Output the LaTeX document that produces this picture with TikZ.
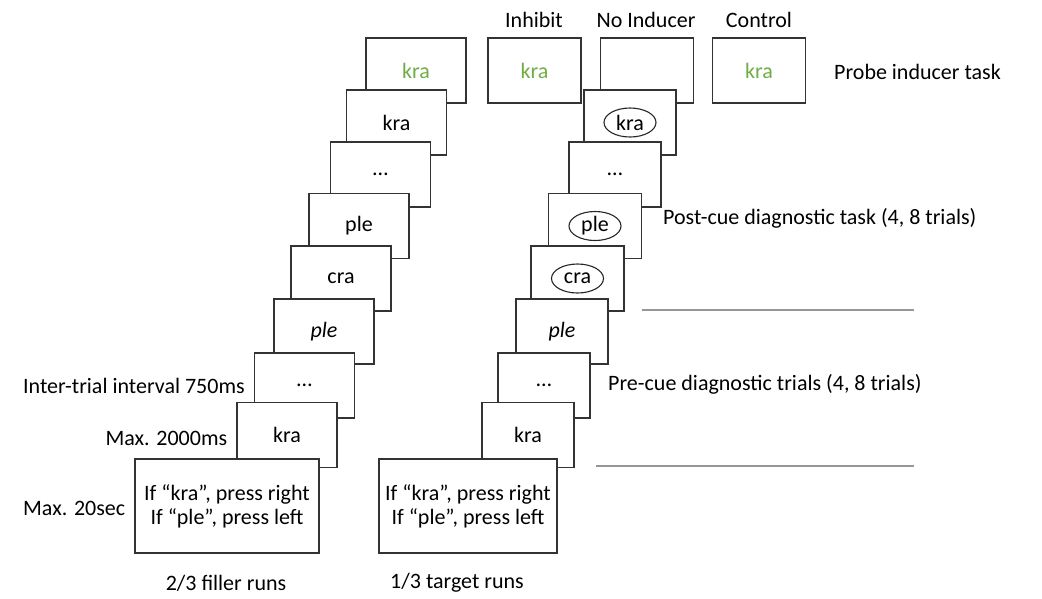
\documentclass[tikz,border=0pt]{standalone}
\usepackage{fontspec}
\setmainfont{Carlito}
\usetikzlibrary{shapes.geometric}

\definecolor{kragreen}{RGB}{112,173,71}
\definecolor{rulegray}{RGB}{150,150,150}
\tikzset{
  screen/.style={draw=black!80, fill=white, line width=1.2pt, minimum width=100pt, minimum height=65pt, inner sep=0pt},
  narrow/.style={screen, minimum width=93pt},
  instr/.style={screen, minimum height=94pt, align=center},
  oval/.style={ellipse, draw=black!85, line width=1.1pt, minimum width=52pt, minimum height=29pt, inner sep=0pt},
  lbl/.style={inner sep=0pt},
}

\begin{document}
\begin{tikzpicture}[x=1pt, y=-1pt, font=\fontsize{22}{24}\selectfont]
            \useasboundingbox (0,0) rectangle (1042,598);

            \node[screen] (l1) at (416,70.5) {\textcolor{kragreen}{kra}};
            \node[screen] (l2) at (396.5,122.5) {kra};
            \node[screen] (l3) at (380.5,174.5) {…};
            \node[screen] (l4) at (359,226) {ple};
            \node[screen] (l5) at (341,278.5) {cra};
            \node[screen] (l6) at (324,331.5) {\textit{ple}};
            \node[screen] (l7) at (304.5,385.5) {…};
            \node[screen] (l8) at (287,435) {kra};
            \node[instr, minimum width=184pt] (l9) at (227,506) {If “kra”, press right\\If “ple”, press left};

            \node[narrow] (inhibit) at (534.5,70.5) {\textcolor{kragreen}{kra}};
            \node[narrow] (noinducer) at (647,70.5) {};
            \node[narrow] (control) at (759,70.5) {\textcolor{kragreen}{kra}};
            \node[narrow, minimum width=92pt] (r2) at (630,122.5) {};
            \node[oval] (r2w) at (r2) {kra};
            \node[narrow, minimum width=92pt] (r3) at (615,174.5) {…};
            \node[narrow] (r4) at (595,226) {};
            \node[oval] (r4w) at (r4) {ple};
            \node[narrow] (r5) at (577.5,278.5) {};
            \node[oval] (r5w) at (r5) {cra};
            \node[narrow, minimum width=92pt] (r6) at (562,331.5) {\textit{ple}};
            \node[narrow, minimum width=92pt] (r7) at (544,385.5) {…};
            \node[narrow, minimum width=92pt] (r8) at (528,435) {kra};
            \node[instr, minimum width=178pt] (r9) at (468,506) {If “kra”, press right\\If “ple”, press left};

            \node[lbl] (tinhibit) at (534,20) {Inhibit};
            \node[lbl] (tnoinducer) at (646,20) {No Inducer};
            \node[lbl] (tcontrol) at (759,20) {Control};
            \node[lbl, anchor=west] (tprobe) at (834,72) {Probe inducer task};
            \node[lbl, anchor=west] (tpost) at (663,218) {Post-cue diagnostic task (4, 8 trials)};
            \node[lbl, anchor=west] (tpre) at (608,384) {Pre-cue diagnostic trials (4, 8 trials)};

            \node[lbl, anchor=east] (titi) at ([xshift=-9pt]l7.west) {Inter-trial interval 750ms};
            \node[lbl, anchor=east] (tmax2000) at ([xshift=-9pt,yshift=-3pt]l8.west) {Max. 2000ms};
            \node[lbl, anchor=east] (tmax20) at ([xshift=-9pt,yshift=-2pt]l9.west) {Max. 20sec};
            \node[lbl] (tfiller) at (226,583) {2/3 filler runs};
            \node[lbl] (ttarget) at (457,583) {1/3 target runs};

            \coordinate (sep1a) at (642,310);
            \coordinate (sep1b) at (914,310);
            \coordinate (sep2a) at (596,466);
            \coordinate (sep2b) at (914,466);
            \draw[rulegray, line width=1.2pt] (sep1a) -- (sep1b);
            \draw[rulegray, line width=1.2pt] (sep2a) -- (sep2b);
        \end{tikzpicture}
\end{document}
